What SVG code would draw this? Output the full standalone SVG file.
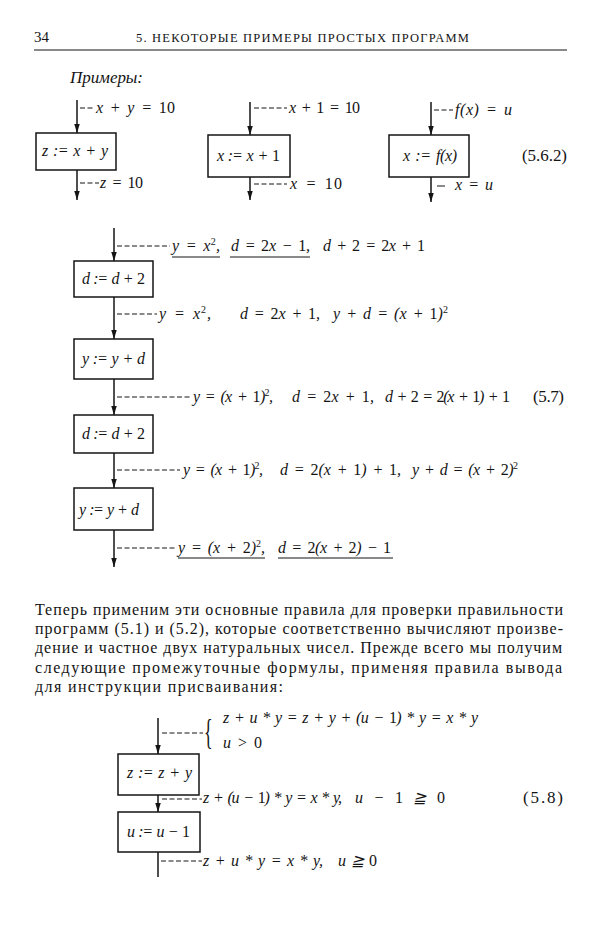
<svg xmlns="http://www.w3.org/2000/svg" width="600" height="933" viewBox="0 0 600 933">
<style>
.f{font-family:"Liberation Serif","Times New Roman",serif;font-size:16px;font-style:italic;fill:#141414;word-spacing:2px}
.n{font-style:normal}
.s{font-size:10px;font-style:normal}
.u{font-family:"Liberation Serif","Times New Roman",serif;font-size:16px;fill:#141414}
.p{font-family:"Liberation Serif","Times New Roman",serif;font-size:16px;fill:#141414}
.box{fill:none;stroke:#141414;stroke-width:1.5}
.flow{stroke:#141414;stroke-width:1.5;fill:none}
.lead{stroke:#141414;stroke-width:1;stroke-dasharray:5 2.5;fill:none}
.ul{stroke:#141414;stroke-width:1;fill:none}
</style>
<defs>
<marker id="ah" markerUnits="userSpaceOnUse" markerWidth="10" markerHeight="6" refX="9" refY="2.75" orient="auto">
<path d="M0,0 L9,2.75 L0,5.5 Z" fill="#141414"/>
</marker>
</defs>
<rect width="600" height="933" fill="#fff"/>

<!-- header -->
<g id="header">
<text class="u" x="34" y="42" style="font-size:15px">34</text>
<text class="p" x="136" y="42" style="font-size:12.5px" textLength="333" lengthAdjust="spacing">5. НЕКОТОРЫЕ ПРИМЕРЫ ПРОСТЫХ ПРОГРАММ</text>
<line x1="34" y1="50" x2="567" y2="50" stroke="#141414" stroke-width="1.2"/>
<text class="f" x="70" y="83" style="font-size:17px" textLength="73" lengthAdjust="spacing">Примеры:</text>
</g>

<!-- connectors -->
<g id="connectors">
<!-- example A -->
<line class="flow" x1="77" y1="100" x2="77" y2="133" marker-end="url(#ah)"/>
<line class="flow" x1="77" y1="170" x2="77" y2="200" marker-end="url(#ah)"/>
<line class="lead" x1="80" y1="108" x2="95" y2="108"/>
<line class="lead" x1="80" y1="183" x2="99" y2="183"/>
<!-- example B -->
<line class="flow" x1="250" y1="102" x2="250" y2="135" marker-end="url(#ah)"/>
<line class="flow" x1="250" y1="177" x2="250" y2="200" marker-end="url(#ah)"/>
<line class="lead" x1="254" y1="108" x2="287" y2="108"/>
<line class="lead" x1="254" y1="184" x2="287" y2="184"/>
<!-- example C -->
<line class="flow" x1="431" y1="102" x2="431" y2="135" marker-end="url(#ah)"/>
<line class="flow" x1="431" y1="177" x2="431" y2="202" marker-end="url(#ah)"/>
<line class="lead" x1="434" y1="110" x2="453" y2="110"/>
<line class="ul" x1="437" y1="186" x2="445" y2="186"/>
<!-- 5.7 chain -->
<line class="flow" x1="114" y1="228" x2="114" y2="261" marker-end="url(#ah)"/>
<line class="flow" x1="114" y1="297" x2="114" y2="339" marker-end="url(#ah)"/>
<line class="flow" x1="114" y1="379" x2="114" y2="415" marker-end="url(#ah)"/>
<line class="flow" x1="114" y1="453" x2="114" y2="488" marker-end="url(#ah)"/>
<line class="flow" x1="114" y1="530" x2="114" y2="567" marker-end="url(#ah)"/>
<line class="lead" x1="117" y1="246" x2="170" y2="246"/>
<line class="lead" x1="117" y1="314" x2="157" y2="314"/>
<line class="lead" x1="117" y1="397" x2="191" y2="397"/>
<line class="lead" x1="117" y1="470" x2="180" y2="470"/>
<line class="lead" x1="117" y1="548" x2="176" y2="548"/>
<!-- 5.8 chain -->
<line class="flow" x1="158" y1="718" x2="158" y2="754" marker-end="url(#ah)"/>
<line class="flow" x1="158" y1="795" x2="158" y2="812" marker-end="url(#ah)"/>
<line class="flow" x1="158" y1="852" x2="158" y2="877"/>
<line class="lead" x1="162" y1="733" x2="203" y2="733"/>
<line class="lead" x1="162" y1="799" x2="202" y2="799"/>
<line class="lead" x1="161" y1="861" x2="202" y2="861"/>
</g>

<!-- top examples -->
<g id="exA">
<rect class="box" x="36" y="133" width="80" height="37"/>
<text class="f" x="42" y="156" textLength="66" lengthAdjust="spacing">z := x + y</text>
</g>
<g id="exA-labels">
<text class="f" x="96" y="113" textLength="79" lengthAdjust="spacing">x + y = <tspan class="n">10</tspan></text>
<text class="f" x="100" y="188" textLength="43" lengthAdjust="spacing">z = <tspan class="n">10</tspan></text>
</g>
<g id="exB">
<rect class="box" x="208" y="135" width="82" height="42"/>
<text class="f" x="217" y="161" textLength="63" lengthAdjust="spacing">x := x + <tspan class="n">1</tspan></text>
</g>
<g id="exB-labels">
<text class="f" x="289" y="113" textLength="71" lengthAdjust="spacing">x + <tspan class="n">1</tspan> = <tspan class="n">10</tspan></text>
<text class="f" x="290" y="189" textLength="52" lengthAdjust="spacing">x = <tspan class="n">10</tspan></text>
</g>
<g id="exC">
<rect class="box" x="389" y="135" width="80" height="42"/>
<text class="f" x="403" y="161" textLength="54" lengthAdjust="spacing">x := f(x)</text>
</g>
<g id="exC-labels">
<text class="f" x="455" y="115" textLength="57" lengthAdjust="spacing">f(x) = u</text>
<text class="f" x="455" y="190" textLength="38" lengthAdjust="spacing">x = u</text>
<text class="u" x="522" y="161" style="font-size:17px" textLength="45" lengthAdjust="spacing">(5.6.2)</text>
</g>

<!-- 5.7 chain boxes -->
<g id="b1">
<rect class="box" x="74" y="261" width="79" height="36"/>
<text class="f" x="82" y="284" textLength="63" lengthAdjust="spacing">d := d + <tspan class="n">2</tspan></text>
</g>
<g id="b2">
<rect class="box" x="74" y="339" width="79" height="40"/>
<text class="f" x="82" y="364" textLength="63" lengthAdjust="spacing">y := y + d</text>
</g>
<g id="b3">
<rect class="box" x="74" y="415" width="79" height="38"/>
<text class="f" x="82" y="439" textLength="63" lengthAdjust="spacing">d := d + <tspan class="n">2</tspan></text>
</g>
<g id="b4">
<rect class="box" x="74" y="488" width="79" height="42"/>
<text class="f" x="79" y="515" textLength="60" lengthAdjust="spacing">y := y + d</text>
</g>

<g id="chain57-labels">
<text class="f" x="172" y="251" textLength="48" lengthAdjust="spacing">y = x<tspan class="s" dy="-6">2</tspan><tspan dy="6">,</tspan></text>
<text class="f" x="231" y="251" textLength="79" lengthAdjust="spacing">d = <tspan class="n">2</tspan>x − <tspan class="n">1</tspan>,</text>
<text class="f" x="323" y="251" textLength="102" lengthAdjust="spacing">d + <tspan class="n">2</tspan> = <tspan class="n">2</tspan>x + <tspan class="n">1</tspan></text>
<line class="ul" x1="172" y1="257" x2="220" y2="257"/>
<line class="ul" x1="230" y1="257" x2="310" y2="257"/>

<text class="f" x="159" y="319" textLength="52" lengthAdjust="spacing">y = x<tspan class="s" dy="-6">2</tspan><tspan dy="6">,</tspan></text>
<text class="f" x="240" y="319" textLength="80" lengthAdjust="spacing">d = <tspan class="n">2</tspan>x + <tspan class="n">1</tspan>,</text>
<text class="f" x="333" y="319" textLength="115" lengthAdjust="spacing">y + d = (x + <tspan class="n">1</tspan>)<tspan class="s" dy="-6">2</tspan></text>

<text class="f" x="193" y="402" textLength="80" lengthAdjust="spacing">y = (x + <tspan class="n">1</tspan>)<tspan class="s" dy="-6">2</tspan><tspan dy="6">,</tspan></text>
<text class="f" x="292" y="402" textLength="82" lengthAdjust="spacing">d = <tspan class="n">2</tspan>x + <tspan class="n">1</tspan>,</text>
<text class="f" x="385" y="402" textLength="125" lengthAdjust="spacing">d + <tspan class="n">2</tspan> = <tspan class="n">2</tspan>(x + <tspan class="n">1</tspan>) + <tspan class="n">1</tspan></text>
<text class="u" x="533" y="402" style="font-size:17px" textLength="31" lengthAdjust="spacing">(5.7)</text>

<text class="f" x="183" y="475" textLength="80" lengthAdjust="spacing">y = (x + <tspan class="n">1</tspan>)<tspan class="s" dy="-6">2</tspan><tspan dy="6">,</tspan></text>
<text class="f" x="280" y="475" textLength="121" lengthAdjust="spacing">d = <tspan class="n">2</tspan>(x + <tspan class="n">1</tspan>) + <tspan class="n">1</tspan>,</text>
<text class="f" x="412" y="475" textLength="106" lengthAdjust="spacing">y + d = (x + <tspan class="n">2</tspan>)<tspan class="s" dy="-6">2</tspan></text>

<text class="f" x="178" y="553" textLength="87" lengthAdjust="spacing">y = (x + <tspan class="n">2</tspan>)<tspan class="s" dy="-6">2</tspan><tspan dy="6">,</tspan></text>
<text class="f" x="278" y="553" textLength="113" lengthAdjust="spacing">d = <tspan class="n">2</tspan>(x + <tspan class="n">2</tspan>) − <tspan class="n">1</tspan></text>
<line class="ul" x1="178" y1="558" x2="265" y2="558"/>
<line class="ul" x1="278" y1="558" x2="393" y2="558"/>
</g>

<!-- paragraph -->
<g id="paragraph">
<text class="p" x="35" y="615" textLength="528" lengthAdjust="spacing">Теперь применим эти основные правила для проверки правильности</text>
<text class="p" x="35" y="634" textLength="528" lengthAdjust="spacing">программ (5.1) и (5.2), которые соответственно вычисляют произве-</text>
<text class="p" x="35" y="653" textLength="527" lengthAdjust="spacing">дение и частное двух натуральных чисел. Прежде всего мы получим</text>
<text class="p" x="35" y="673" textLength="527" lengthAdjust="spacing">следующие промежуточные формулы, применяя правила вывода</text>
<text class="p" x="35" y="692" textLength="248" lengthAdjust="spacing">для инструкции присваивания:</text>
</g>

<!-- 5.8 chain -->
<g id="c1">
<rect class="box" x="118" y="754" width="81" height="41"/>
<text class="f" x="127" y="778" textLength="65" lengthAdjust="spacing">z := z + y</text>
</g>
<g id="c2">
<rect class="box" x="118" y="812" width="82" height="40"/>
<text class="f" x="127" y="837" textLength="63" lengthAdjust="spacing">u := u − <tspan class="n">1</tspan></text>
</g>
<g id="chain58-labels">
<text class="u" transform="translate(204,744) scale(0.5,1)" style="font-size:36px">{</text>
<text class="f" x="223" y="723" textLength="255" lengthAdjust="spacing">z + u * y = z + y + (u − <tspan class="n">1</tspan>) * y = x * y</text>
<text class="f" x="223" y="748" textLength="39" lengthAdjust="spacing">u &gt; <tspan class="n">0</tspan></text>
<text class="f" x="203" y="803" textLength="139" lengthAdjust="spacing">z + (u − <tspan class="n">1</tspan>) * y = x * y,</text>
<text class="f" x="355" y="803" textLength="90" lengthAdjust="spacing">u − <tspan class="n">1</tspan> ≧ <tspan class="n">0</tspan></text>
<text class="u" x="523" y="803" style="font-size:17px" textLength="40" lengthAdjust="spacing">(5.8)</text>
<text class="f" x="203" y="866" textLength="120" lengthAdjust="spacing">z + u * y = x * y,</text>
<text class="f" x="338" y="866" textLength="39" lengthAdjust="spacing">u ≧ <tspan class="n">0</tspan></text>
</g>
</svg>
